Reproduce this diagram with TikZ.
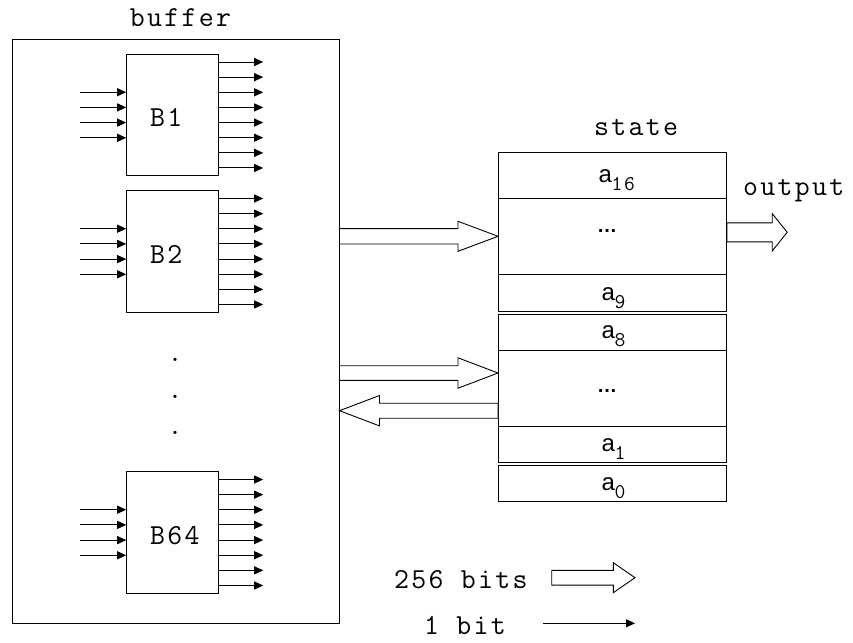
\documentclass[tikz,border=0pt]{standalone}
\usepackage{fontspec}
\setmonofont{Latin Modern Mono}[LetterSpace=8]
\newfontfamily\cellsans{Liberation Sans}
\usetikzlibrary{arrows.meta,calc}

% typewriter text at a given size
\newcommand\tw[1]{\ttfamily\fontsize{#1}{#1}\selectfont}

% hollow "bus" arrow: #1 name prefix, #2 start, #3 tip,
% #4 shaft half-width, #5 head half-width, #6 head length
\newcommand\fatarrow[6]{%
  \coordinate (#1h) at ($(#3)!#6pt!(#2)$);
  \draw[fat] ($(#2)!#4pt!90:(#3)$) -- ($(#1h)!#4pt!90:(#3)$)
    -- ($(#1h)!#5pt!90:(#3)$) -- (#3)
    -- ($(#1h)!#5pt!-90:(#3)$) -- ($(#1h)!#4pt!-90:(#3)$)
    -- ($(#2)!#4pt!-90:(#3)$) -- cycle;
}
% register cell label a_i
\newcommand\acell[1]{{\cellsans\fontsize{24}{24}\selectfont a}\kern-0.5pt\raisebox{-8pt}{\tw{21}#1}}

\tikzset{
  every node/.style={font=\tw{29}},
  frame/.style={draw, line width=1pt, inner sep=0pt},
  blockbox/.style={frame, minimum width=91.3pt, minimum height=121.8pt},
  cell/.style={frame, minimum width=228pt},
  bit/.style={line width=1pt, -{Triangle[length=9pt,width=8pt]}},
  fat/.style={draw, fill=white, line width=0.9pt, line join=miter},
  txt/.style={inner sep=0pt, anchor=base},
  txtw/.style={inner sep=0pt, anchor=base west},
  dots/.style={txt, font=\cellsans\bfseries\fontsize{20}{20}\selectfont},
}

\begin{document}
\begin{tikzpicture}[x=1pt, y=-1pt]
\useasboundingbox (0,0) rectangle (853,642);

% buffer with its blocks
\node[frame, minimum width=326.3pt, minimum height=584pt] (buf) at (175.85,331.3) {};
\node[txt] (buftitle) at (180.5,26.7) {buffer};

\node[blockbox] (B1) at (172.35,115) {};
\node[blockbox] (B2) at (172.35,251.5) {};
\node[blockbox] (B64) at (172.35,532.5) {};
\foreach \b in {B1,B2,B64} {
  \node[txtw] (\b t) at ($(\b.center)+(-22.5,11.5)$) {\b};
  \foreach \k in {-1.5,-0.5,0.5,1.5}
    \draw[bit] ([shift={(-46,\k*15.2)}]\b.west) -- ([shift={(0,\k*15.2)}]\b.west);
  \foreach \k in {-3.5,-2.5,...,3.5}
    \draw[bit] ([shift={(0,\k*15.14)}]\b.east) -- ([shift={(44.7,\k*15.14)}]\b.east);
}
\node[txt] (d1) at (175,361.5) {.};
\node[txt] (d2) at (175,398.9) {.};
\node[txt] (d3) at (175,434.9) {.};

% state register
\node[txt] (statetitle) at (636,135) {state};
\node[cell, minimum height=45.6pt] (r16) at (612.5,175.5) {};
\node[cell, minimum height=76pt]   (rd1) at (612.5,236.3) {};
\node[cell, minimum height=37.4pt] (r9)  at (612.5,293) {};
\node[cell, minimum height=36pt]   (r8)  at (612.5,332) {};
\node[cell, minimum height=76pt]   (rd2) at (612.5,388) {};
\node[cell, minimum height=36.3pt] (r1)  at (612.5,444.15) {};
\node[cell, minimum height=36.7pt] (r0)  at (612.5,483.35) {};

\node[txtw] (l16) at ($(r16.south west)+(100.5,-16)$) {\acell{16}};
\node[txtw] (l9)  at ($(r9.south west)+(103.5,-11.7)$) {\acell{9}};
\node[txtw] (l8)  at ($(r8.south west)+(103.5,-11.7)$) {\acell{8}};
\node[txtw] (l1)  at ($(r1.south west)+(103.5,-11.7)$) {\acell{1}};
\node[txtw] (l0)  at ($(r0.south west)+(103.5,-11.7)$) {\acell{0}};
\node[dots] (e1) at (607,232) {\textellipsis};
\node[dots] (e2) at (607,392) {\textellipsis};

% buses between buffer and state
\coordinate (aS) at (buf.east |- rd1.west);
\fatarrow{aA}{aS}{rd1.west}{7.65}{15}{40}
\coordinate (bS) at ($(buf.east |- rd2.west)+(0,-15)$);
\coordinate (bE) at ($(rd2.west)+(0,-15)$);
\fatarrow{aB}{bS}{bE}{7.3}{15.2}{40}
\coordinate (cS) at ($(rd2.west)+(0,22.7)$);
\coordinate (cE) at ($(buf.east |- rd2.west)+(0,22.7)$);
\fatarrow{aC}{cS}{cE}{7.5}{15.2}{40}

% output
\coordinate (oS) at ($(rd1.east)+(0,-4)$);
\coordinate (oE) at ($(rd1.east)+(60.2,-4)$);
\fatarrow{aO}{oS}{oE}{9.5}{18.7}{15}
\node[txtw] (outtxt) at (743,195) {output};

% legend
\node[txtw] (lg256) at (394,588) {256 bits};
\coordinate (lgS) at (551.7,577.7);
\coordinate (lgE) at (635,577.7);
\fatarrow{aL}{lgS}{lgE}{7.35}{15}{21.7}
\node[txtw] (lg1) at (424,634) {1 bit};
\coordinate (bitS) at (543.3,623.3);
\coordinate (bitE) at (635,623.3);
\draw[bit] (bitS) -- (bitE);
\end{tikzpicture}
\end{document}
